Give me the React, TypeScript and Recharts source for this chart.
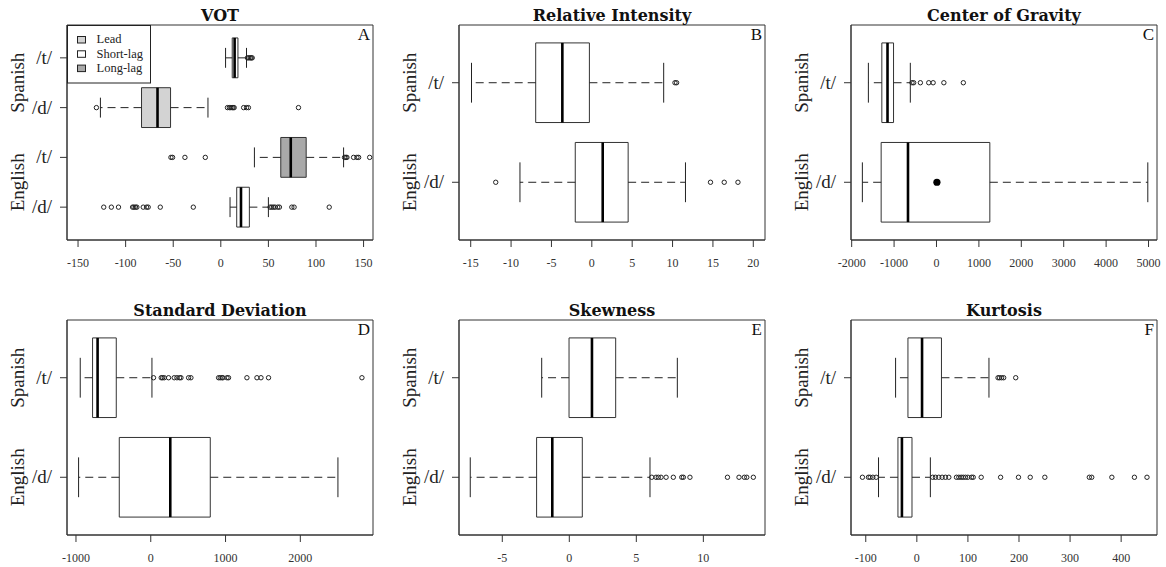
import React from 'react';
import { ScatterChart, Scatter, XAxis, YAxis, ReferenceArea, ReferenceLine } from 'recharts';

// boxes are [lower whisker, Q1, median, Q3, upper whisker]
const votSpanishT = [5, 12, 14.5, 18, 27];
const votSpanishTOut = [28, 29.5, 31, 32, 33];
const votSpanishD = [-126.5, -83.3, -66.5, -52.8, -13.5];
const votSpanishDOut = [-130.7, 7, 9, 10.5, 12, 13, 14, 24, 27, 29, 81.6];
const votEnglishT = [35.3, 63, 73.5, 89.7, 129];
const votEnglishTOut = [-52.4, -50.7, -37.7, -16.3, 130, 131.4, 132.5, 139.5, 143, 144.8, 156.4];
const votEnglishD = [9.7, 16.7, 21.2, 30, 50];
const votEnglishDOut = [-123, -115, -107.5, -92.7, -91.3, -89.6, -88.2, -81.5, -78, -76.3, -63.6, -28.9,
  51.8, 53.5, 55.3, 57, 59.8, 61.6, 74.6, 77, 113.9];

const intSpanish = [-14.9, -6.95, -3.65, -0.3, 8.9];
const intSpanishOut = [10.3, 10.5];
const intEnglish = [-8.9, -2.05, 1.35, 4.5, 11.6];
const intEnglishOut = [-11.9, 14.7, 16.4, 18.1];

const cogSpanish = [-1606, -1289, -1155, -1013, -617];
const cogSpanishOut = [-577, -538, -380, -182, -79, 174, 633];
const cogEnglish = [-1748, -1305, -672, 1258, 4983];
const cogEnglishMark = [10];

const sdSpanish = [-943, -778, -711, -461, 16];
const sdSpanishOut = [37, 140, 158, 181, 238, 314, 350, 385, 404, 506, 537, 907, 929, 952, 965, 1019, 1040,
  1286, 1420, 1474, 1575, 2824];
const sdEnglish = [-965, -421, 261, 796, 2503];

const skewSpanish = [-2.06, -0.02, 1.69, 3.46, 8.06];
const skewEnglish = [-7.39, -2.44, -1.27, 0.97, 6.02];
const skewEnglishOut = [6.15, 6.47, 6.64, 6.84, 7.22, 7.76, 8.39, 8.51, 9.0, 11.8, 12.66, 13.06, 13.24, 13.73];

const kurtSpanish = [-41.6, -17.4, 10.2, 48.2, 141.2];
const kurtSpanishOut = [159, 162, 166, 170, 193.6];
const kurtEnglish = [-75, -37, -29.2, -9.5, 26.5];
const kurtEnglishOut = [-106.5, -94.7, -91.4, -86.2, -79.6, 31.1, 36.4, 42.9, 49.5, 56, 62.6, 77.6, 82.2,
  86.8, 90.8, 95.3, 99.9, 107.1, 110.4, 126, 164, 199, 222, 250.6, 337.7, 342.4, 381.8, 426, 450.6];

const votTicks = [-150, -100, -50, 0, 50, 100, 150];
const intTicks = [-15, -10, -5, 0, 5, 10, 15, 20];
const cogTicks = [-2000, -1000, 0, 1000, 2000, 3000, 4000, 5000];
const sdTicks = [-1000, 0, 1000, 2000];
const skewTicks = [-5, 0, 5, 10];
const kurtTicks = [-100, 0, 100, 200, 300, 400];

const votCats = ['/d/', '/t/', '/d/', '/t/'];
const pairCats = ['/d/', '/t/'];
const groupNames = ['English', 'Spanish'];
const votGroupPos = [1.5, 3.5];
const pairGroupPos = [1, 2];

const legendNames = ['Lead', 'Short-lag', 'Long-lag'];
const legendFills = ['#d3d3d3', '#ffffff', '#a9a9a9'];

const SERIF = '"Liberation Serif", serif';
const INK = '#222';
const FRAME_W = 306;
const FRAME_H = 215;
const AXIS_W = 67;

type Row = { pos: number; box: number[]; out?: number[]; fill?: string; marks?: number[] };

type PanelDef = {
  title: string;
  letter: string;
  col: number;
  row: number;
  domain: [number, number];
  ticks: number[];
  cats: string[];
  groupPos: number[];
  rows: Row[];
};

const panels: PanelDef[] = [
  {
    title: 'VOT', letter: 'A', col: 0, row: 0, domain: [-161.6, 159.9], ticks: votTicks,
    cats: votCats, groupPos: votGroupPos,
    rows: [
      { pos: 4, box: votSpanishT, out: votSpanishTOut, fill: legendFills[1] },
      { pos: 3, box: votSpanishD, out: votSpanishDOut, fill: legendFills[0] },
      { pos: 2, box: votEnglishT, out: votEnglishTOut, fill: legendFills[2] },
      { pos: 1, box: votEnglishD, out: votEnglishDOut, fill: legendFills[1] },
    ],
  },
  {
    title: 'Relative Intensity', letter: 'B', col: 1, row: 0, domain: [-16.45, 21.45], ticks: intTicks,
    cats: pairCats, groupPos: pairGroupPos,
    rows: [
      { pos: 2, box: intSpanish, out: intSpanishOut },
      { pos: 1, box: intEnglish, out: intEnglishOut },
    ],
  },
  {
    title: 'Center of Gravity', letter: 'C', col: 2, row: 0, domain: [-2016, 5200], ticks: cogTicks,
    cats: pairCats, groupPos: pairGroupPos,
    rows: [
      { pos: 2, box: cogSpanish, out: cogSpanishOut },
      { pos: 1, box: cogEnglish, marks: cogEnglishMark },
    ],
  },
  {
    title: 'Standard Deviation', letter: 'D', col: 0, row: 1, domain: [-1120, 2972], ticks: sdTicks,
    cats: pairCats, groupPos: pairGroupPos,
    rows: [
      { pos: 2, box: sdSpanish, out: sdSpanishOut },
      { pos: 1, box: sdEnglish },
    ],
  },
  {
    title: 'Skewness', letter: 'E', col: 1, row: 1, domain: [-8.23, 14.6], ticks: skewTicks,
    cats: pairCats, groupPos: pairGroupPos,
    rows: [
      { pos: 2, box: skewSpanish },
      { pos: 1, box: skewEnglish, out: skewEnglishOut },
    ],
  },
  {
    title: 'Kurtosis', letter: 'F', col: 2, row: 1, domain: [-128.9, 470.2], ticks: kurtTicks,
    cats: pairCats, groupPos: pairGroupPos,
    rows: [
      { pos: 2, box: kurtSpanish, out: kurtSpanishOut },
      { pos: 1, box: kurtEnglish, out: kurtEnglishOut },
    ],
  },
];

const colLeft = [0, 392, 784];
const rowTop = [0, 295];

const openDot = (p: any) => (
  <circle cx={p.cx} cy={p.cy} r={2.2} fill="none" stroke={INK} strokeWidth={1} />
);
const solidDot = (p: any) => <circle cx={p.cx} cy={p.cy} r={3.6} fill="#000" />;

const xTick = (p: any) => (
  <text x={p.x} y={p.y} dy={9} textAnchor="middle" fontFamily={SERIF} fontSize={12} fill="#333">
    {p.payload.value}
  </text>
);

function Panel({ def }: { def: PanelDef }) {
  const n = def.cats.length;
  const yDomain: [number, number] = [0.5 - 0.04 * n, n + 0.5 + 0.04 * n];
  const catTicks = def.cats.map((_, i) => i + 1);

  const yTick = (p: any) => (
    <text x={p.x} y={p.y} dy={6} textAnchor="end" fontFamily={SERIF} fontSize={19} fill={INK}>
      {def.cats[Math.round(p.payload.value) - 1]}
    </text>
  );

  // group names sit on invisible lines so their height comes from the y scale
  const groupLabel = (name: string) => (lp: any) => {
    const y = lp.viewBox.y;
    const x = lp.viewBox.x - 43;
    return (
      <text x={x} y={y} transform={`rotate(-90, ${x}, ${y})`} textAnchor="middle"
        fontFamily={SERIF} fontSize={19} fill={INK}>
        {name}
      </text>
    );
  };

  const marks: React.ReactNode[] = [];
  def.groupPos.forEach((gp, i) => {
    marks.push(
      <ReferenceLine key={`g${i}`} y={gp} stroke="none" ifOverflow="visible"
        label={{ content: groupLabel(groupNames[i]) }} />,
    );
  });
  def.rows.forEach((r, k) => {
    const [lo, q1, med, q3, hi] = r.box;
    marks.push(
      <ReferenceLine key={`wl${k}`} segment={[{ x: q1, y: r.pos }, { x: lo, y: r.pos }]}
        stroke={INK} strokeDasharray="8 5" ifOverflow="visible" />,
      <ReferenceLine key={`wh${k}`} segment={[{ x: q3, y: r.pos }, { x: hi, y: r.pos }]}
        stroke={INK} strokeDasharray="8 5" ifOverflow="visible" />,
      <ReferenceLine key={`sl${k}`} segment={[{ x: lo, y: r.pos - 0.2 }, { x: lo, y: r.pos + 0.2 }]}
        stroke={INK} ifOverflow="visible" />,
      <ReferenceLine key={`sh${k}`} segment={[{ x: hi, y: r.pos - 0.2 }, { x: hi, y: r.pos + 0.2 }]}
        stroke={INK} ifOverflow="visible" />,
      <ReferenceArea key={`b${k}`} x1={q1} x2={q3} y1={r.pos - 0.4} y2={r.pos + 0.4}
        fill={r.fill ?? '#fff'} fillOpacity={1} stroke="#333" strokeWidth={1} ifOverflow="visible" />,
      <ReferenceLine key={`m${k}`} segment={[{ x: med, y: r.pos - 0.4 }, { x: med, y: r.pos + 0.4 }]}
        stroke="#000" strokeWidth={2.6} ifOverflow="visible" />,
    );
  });

  return (
    <div style={{ position: 'absolute', left: colLeft[def.col], top: rowTop[def.row] }}>
      <ScatterChart width={388} height={283} style={{ fontFamily: SERIF }}
        margin={{ top: 25, right: 388 - AXIS_W - FRAME_W, bottom: 0, left: 0 }}>
        <XAxis type="number" dataKey="x" domain={def.domain} ticks={def.ticks} allowDataOverflow interval={0}
          height={283 - 25 - FRAME_H} tickSize={7} tickMargin={11} stroke="#333" tick={xTick} />
        <YAxis type="number" dataKey="y" domain={yDomain} ticks={catTicks} allowDataOverflow interval={0}
          width={AXIS_W} tickSize={7} tickMargin={8} stroke="#333" tick={yTick} />
        <ReferenceArea x1={def.domain[0]} x2={def.domain[1]} y1={yDomain[0]} y2={yDomain[1]}
          fill="none" stroke="#333" ifOverflow="visible" />
        {marks}
        {def.rows.filter(r => r.out).map((r, k) => (
          <Scatter key={`o${k}`} data={r.out!.map(v => ({ x: v, y: r.pos }))} shape={openDot}
            isAnimationActive={false} />
        ))}
        {def.rows.filter(r => r.marks).map((r, k) => (
          <Scatter key={`p${k}`} data={r.marks!.map(v => ({ x: v, y: r.pos }))} shape={solidDot}
            isAnimationActive={false} />
        ))}
      </ScatterChart>
    </div>
  );
}

export default function App() {
  return (
    <div style={{ position: 'absolute', left: 0, top: 0, width: 1166, height: 567, background: '#fff' }}>
      {panels.map(p => <Panel key={p.letter} def={p} />)}
      <svg width={1166} height={567} style={{ position: 'absolute', left: 0, top: 0, pointerEvents: 'none' }}>
        {panels.map(p => {
          const fx = colLeft[p.col] + AXIS_W;
          const fy = rowTop[p.row] + 25;
          return (
            <g key={p.letter}>
              <text x={fx + FRAME_W / 2} y={fy - 4.5} textAnchor="middle" fontFamily='"DejaVu Serif", serif'
                fontWeight="bold" fontSize={16} fill="#111">{p.title}</text>
              <text x={fx + FRAME_W - 3} y={fy + 15} textAnchor="end" fontFamily={SERIF}
                fontSize={17} fill="#111">{p.letter}</text>
            </g>
          );
        })}
        <g>
          <rect x={67.5} y={25.5} width={83} height={57.5} fill="#fff" stroke={INK} />
          {legendNames.map((name, i) => (
            <g key={name}>
              <rect x={77.5} y={36.5 + i * 14.3} width={8} height={6.5} fill={legendFills[i]} stroke={INK} />
              <text x={96.5} y={43.3 + i * 14.3} fontFamily={SERIF} fontSize={12.5} fill={INK}>{name}</text>
            </g>
          ))}
        </g>
      </svg>
    </div>
  );
}
